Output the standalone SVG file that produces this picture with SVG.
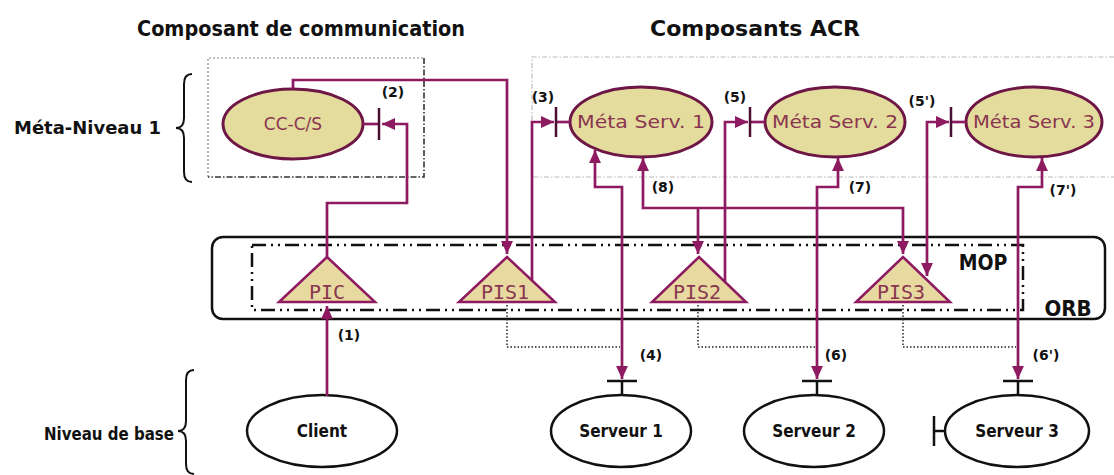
<svg xmlns="http://www.w3.org/2000/svg" width="1114" height="475" viewBox="0 0 1114 475">
  <style>
    .title { font-family: "DejaVu Sans Condensed", "DejaVu Sans", sans-serif; font-weight: bold; font-size: 22px; fill: #111; }
    .level { font-family: "DejaVu Sans Condensed", "DejaVu Sans", sans-serif; font-weight: bold; font-size: 17px; fill: #111; }
    .meta { fill: #e3dc9c; stroke: #6e1646; stroke-width: 3; }
    .metatxt { font-family: "DejaVu Sans", sans-serif; font-size: 17px; fill: #8a3550; text-anchor: middle; }
    .proxy { fill: #e8d9a0; stroke: #8e1b62; stroke-width: 2.5; }
    .proxytxt { font-family: "DejaVu Sans Mono", monospace; font-size: 20px; fill: #8a3550; text-anchor: middle; }
    .base { fill: #fff; stroke: #111; stroke-width: 2.5; }
    .basetxt { font-family: "DejaVu Sans Condensed", "DejaVu Sans", sans-serif; font-weight: bold; font-size: 17px; fill: #111; text-anchor: middle; }
    .lbl { font-family: "DejaVu Sans", sans-serif; font-weight: bold; font-size: 14px; fill: #111; text-anchor: middle; }
    .link { fill: none; stroke: #8e1b62; stroke-width: 2.7; }
    .tee { stroke: #4a0f33; stroke-width: 2.5; fill: none; }
    .teeb { stroke: #111; stroke-width: 2.5; fill: none; }
    .dots { fill: none; stroke: #222; stroke-width: 1.5; stroke-dasharray: 1.5 2; }
    .brace { fill: none; stroke: #111; stroke-width: 2; }
  </style>
  <defs>
    <marker id="arrow" viewBox="0 0 12 11" refX="12" refY="5.5" markerWidth="13" markerHeight="12" markerUnits="userSpaceOnUse" orient="auto-start-reverse">
      <path d="M0,0 L12,5.5 L0,11 z" fill="#8e1b62"/>
    </marker>
  </defs>

  <!-- column titles -->
  <text class="title" x="137" y="36" textLength="328" lengthAdjust="spacingAndGlyphs">Composant de communication</text>
  <text class="title" x="650" y="36" textLength="210" lengthAdjust="spacingAndGlyphs">Composants ACR</text>

  <!-- level labels and braces -->
  <g id="level-meta">
    <text class="level" x="14" y="134" textLength="147" lengthAdjust="spacingAndGlyphs">Méta-Niveau 1</text>
    <path class="brace" d="M192,74 Q184,74 184,84 L184,118 Q184,128 176,128 Q184,128 184,138 L184,172 Q184,182 192,182"/>
  </g>
  <g id="level-base">
    <text class="level" x="44" y="440" textLength="130" lengthAdjust="spacingAndGlyphs">Niveau de base</text>
    <path class="brace" d="M194,370 Q186,370 186,380 L186,421 Q186,431 178,431 Q186,431 186,441 L186,464 Q186,474 194,474"/>
  </g>

  <!-- component frames -->
  <g id="frame-communication">
    <path d="M208,177 L208,58 L424,58" fill="none" stroke="#888" stroke-width="1.2" stroke-dasharray="2 2"/>
    <path d="M424,58 L424,177 L208,177" fill="none" stroke="#333" stroke-width="1.6" stroke-dasharray="6 2 1.5 2"/>
  </g>
  <g id="frame-acr">
    <path d="M1114,57 L532,57 L532,177 L1114,177" fill="none" stroke="#bbb" stroke-width="1.2" stroke-dasharray="5 2 1.5 2"/>
  </g>

  <!-- ORB and MOP -->
  <g id="orb">
    <rect x="212" y="237" width="893" height="82" rx="11" fill="none" stroke="#111" stroke-width="2.5"/>
    <text x="1068" y="316" font-family="DejaVu Sans Condensed, DejaVu Sans, sans-serif" font-weight="bold" font-size="22" fill="#111" text-anchor="middle">ORB</text>
  </g>
  <g id="mop">
    <rect x="252" y="245" width="771" height="65" fill="none" stroke="#111" stroke-width="2.5" stroke-dasharray="14 5 2 5 2 5"/>
    <text x="983" y="270" font-family="DejaVu Sans Condensed, DejaVu Sans, sans-serif" font-weight="bold" font-size="21" fill="#111" text-anchor="middle">MOP</text>
  </g>

  <!-- meta-level nodes -->
  <g id="cc-cs">
    <ellipse class="meta" cx="293" cy="124" rx="70" ry="35"/>
    <text class="metatxt" x="293" y="130">CC-C/S</text>
    <path class="link" d="M363,124 H379"/>
    <path class="tee" d="M379,108 V140"/>
  </g>
  <g id="meta-serv-1">
    <ellipse class="meta" cx="641" cy="122" rx="71" ry="35"/>
    <text class="metatxt" x="641" y="128" textLength="128" lengthAdjust="spacingAndGlyphs">Méta Serv. 1</text>
    <path class="link" d="M556,122 H570"/>
    <path class="tee" d="M556,107 V137"/>
  </g>
  <g id="meta-serv-2">
    <ellipse class="meta" cx="835" cy="122" rx="70" ry="35"/>
    <text class="metatxt" x="835" y="128" textLength="126" lengthAdjust="spacingAndGlyphs">Méta Serv. 2</text>
    <path class="link" d="M750,122 H765"/>
    <path class="tee" d="M750,107 V137"/>
  </g>
  <g id="meta-serv-3">
    <ellipse class="meta" cx="1034" cy="122" rx="68" ry="35"/>
    <text class="metatxt" x="1034" y="128" textLength="122" lengthAdjust="spacingAndGlyphs">Méta Serv. 3</text>
    <path class="link" d="M951,122 H966"/>
    <path class="tee" d="M951,107 V137"/>
  </g>

  <!-- proxies inside the ORB -->
  <g id="pic">
    <path class="proxy" d="M327,257 L375,302 L279,302 Z"/>
    <text class="proxytxt" x="327" y="299">PIC</text>
  </g>
  <g id="pis1">
    <path class="proxy" d="M507,257 L555,302 L459,302 Z"/>
    <text class="proxytxt" x="505" y="299">PIS1</text>
  </g>
  <g id="pis2">
    <path class="proxy" d="M699,257 L746,302 L652,302 Z"/>
    <text class="proxytxt" x="697" y="299">PIS2</text>
  </g>
  <g id="pis3">
    <path class="proxy" d="M903,257 L950,302 L856,302 Z"/>
    <text class="proxytxt" x="901" y="299">PIS3</text>
  </g>

  <!-- base-level nodes -->
  <g id="client">
    <ellipse class="base" cx="322" cy="431" rx="75" ry="36"/>
    <text class="basetxt" x="322" y="437">Client</text>
  </g>
  <g id="serveur-1">
    <ellipse class="base" cx="621" cy="431" rx="70" ry="36"/>
    <text class="basetxt" x="621" y="437">Serveur 1</text>
    <path class="teeb" d="M622,381 V395 M607,381 H637"/>
  </g>
  <g id="serveur-2">
    <ellipse class="base" cx="814" cy="431" rx="70" ry="36"/>
    <text class="basetxt" x="814" y="437">Serveur 2</text>
    <path class="teeb" d="M817,381 V395 M802,381 H832"/>
  </g>
  <g id="serveur-3">
    <ellipse class="base" cx="1017" cy="431" rx="72" ry="36"/>
    <text class="basetxt" x="1017" y="437">Serveur 3</text>
    <path class="teeb" d="M1018,381 V395 M1003,381 H1033"/>
    <path class="teeb" d="M934,416 V446 M934,431 H945"/>
  </g>

  <!-- connectors -->
  <g id="connectors">
    <path class="link" d="M327,396 V306" marker-end="url(#arrow)"/>
    <path class="link" d="M327,257 V203 H407 V124 H382" marker-end="url(#arrow)"/>
    <path class="link" d="M293,89 V80 H507 V254" marker-end="url(#arrow)"/>
    <path class="link" d="M532,281 V122 H554" marker-end="url(#arrow)"/>
    <path class="link" d="M725,282 V122 H748" marker-end="url(#arrow)"/>
    <path class="link" d="M927,276 V122 H949" marker-start="url(#arrow)" marker-end="url(#arrow)"/>
    <path class="link" d="M903,254 V208 H643 V158" marker-start="url(#arrow)" marker-end="url(#arrow)"/>
    <path class="link" d="M698,208 V254" marker-end="url(#arrow)"/>
    <path class="link" d="M622,379 V187 H595 V150" marker-start="url(#arrow)" marker-end="url(#arrow)"/>
    <path class="link" d="M817,379 V187 H838 V158" marker-start="url(#arrow)" marker-end="url(#arrow)"/>
    <path class="link" d="M1018,379 V187 H1042 V158" marker-start="url(#arrow)" marker-end="url(#arrow)"/>
    <path class="dots" d="M507,305 V347 H620"/>
    <path class="dots" d="M698,305 V347 H815"/>
    <path class="dots" d="M903,305 V347 H1016"/>
  </g>

  <!-- step numbers -->
  <g id="steps">
    <text class="lbl" x="349" y="340">(1)</text>
    <text class="lbl" x="393" y="97">(2)</text>
    <text class="lbl" x="543" y="102">(3)</text>
    <text class="lbl" x="651" y="360">(4)</text>
    <text class="lbl" x="735" y="102">(5)</text>
    <text class="lbl" x="922" y="106">(5')</text>
    <text class="lbl" x="836" y="360">(6)</text>
    <text class="lbl" x="1046" y="360">(6')</text>
    <text class="lbl" x="860" y="192">(7)</text>
    <text class="lbl" x="1063" y="195">(7')</text>
    <text class="lbl" x="663" y="192">(8)</text>
  </g>
</svg>
